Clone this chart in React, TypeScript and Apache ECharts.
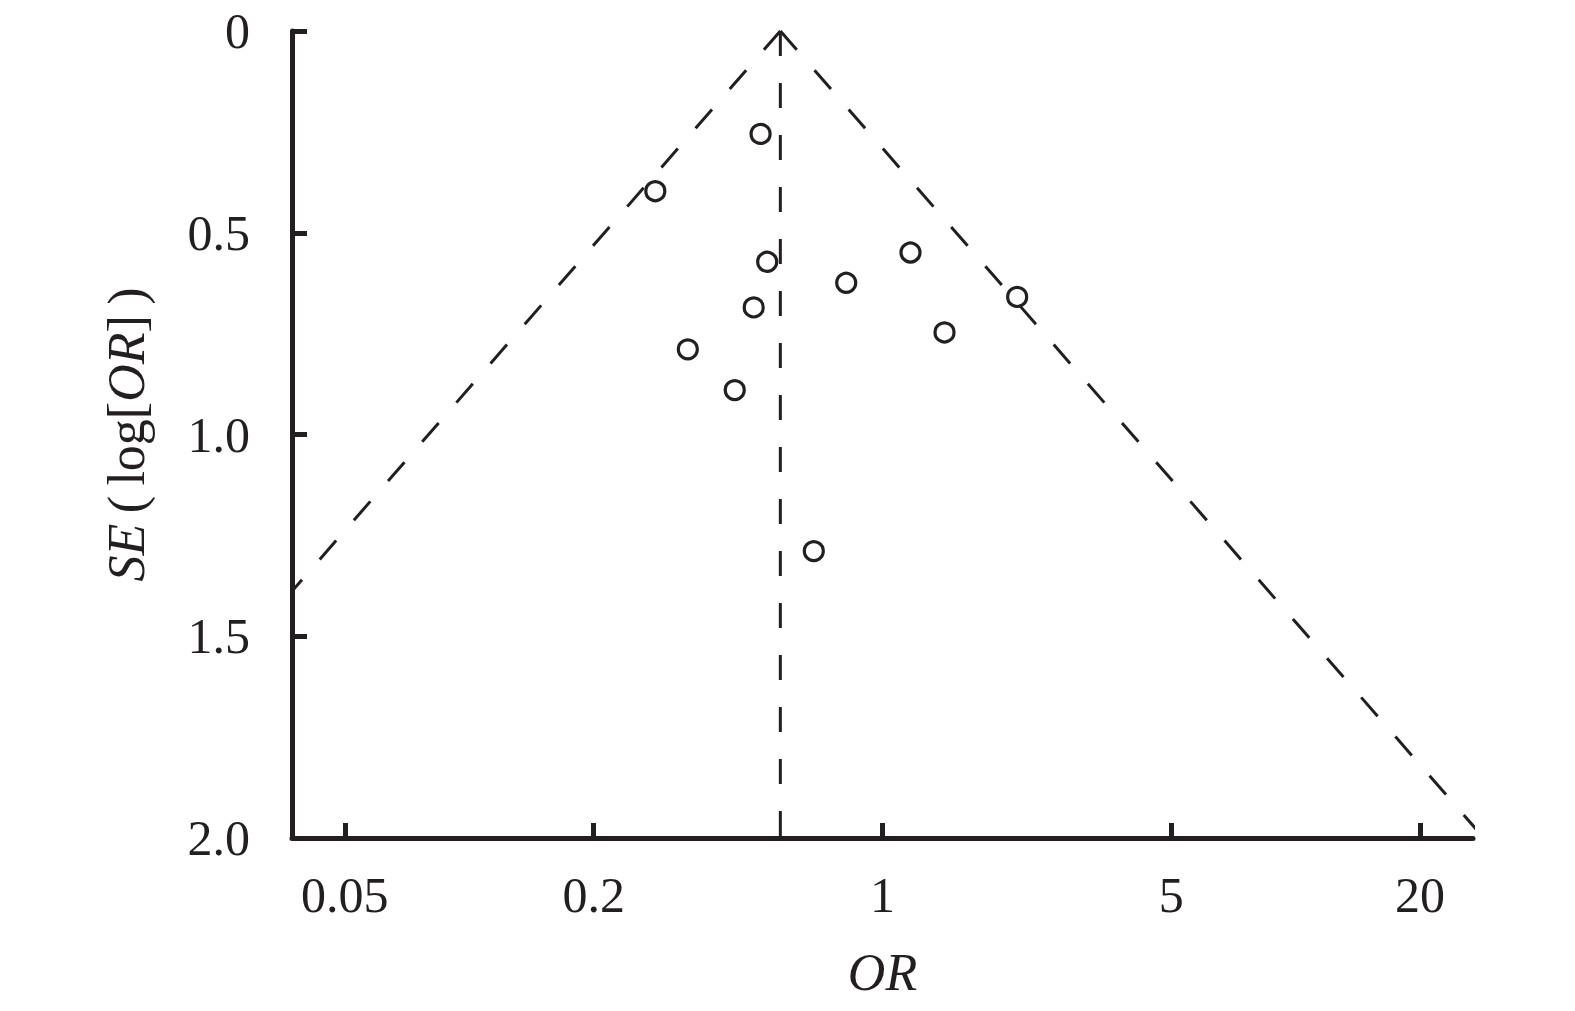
import React, { useEffect, useRef } from "react";
import * as echarts from "echarts";

// ---- data ----
const orTicks = [0.05, 0.2, 1, 5, 20];
const orTickLabels = ["0.05", "0.2", "1", "5", "20"];
const seTicksInterval = 0.5;
const seMin = 0;
const seMax = 2.0;
const orAxisMin = 0.03724;
const orAxisMax = 26.86;

const studyOR = [0.507, 0.282, 1.169, 0.526, 0.817, 2.118, 0.488, 1.413, 0.338, 0.439, 0.682];
const studySE = [0.255, 0.397, 0.549, 0.572, 0.624, 0.659, 0.685, 0.747, 0.789, 0.89, 1.289];
const pooledOR = 0.566;
const funnelZ = 1.96;

const INK = "#231f20";
const FONT = "'Liberation Serif', 'Times New Roman', serif";

export default function App() {
  const ref = useRef<HTMLDivElement | null>(null);

  useEffect(() => {
    if (!ref.current) return;
    const chart = echarts.init(ref.current, undefined, { renderer: "svg" });

    const lg = (v: number) => Math.log10(v);
    const c = lg(pooledOR);
    const half = (funnelZ * seMax) / Math.LN10;

    const points = studyOR.map((o, i) => [lg(o), studySE[i]]);
    const dash = [25, 27];
    const lineStyle = { color: INK, width: 3, type: dash as any, cap: "butt" as const, opacity: 1 };

    chart.setOption({
      animation: false,
      backgroundColor: "#ffffff",
      grid: {
        left: 292,
        top: 31,
        width: 1181,
        height: 807,
        containLabel: false,
        outerBoundsMode: "none",
      },
      xAxis: {
        type: "value",
        min: lg(orAxisMin),
        max: lg(orAxisMax),
        position: "bottom",
        name: "OR",
        nameLocation: "middle",
        nameGap: 108,
        nameTextStyle: {
          fontFamily: FONT,
          fontSize: 52,
          fontStyle: "italic",
          color: INK,
        },
        axisLine: { show: true, onZero: false, lineStyle: { color: INK, width: 5 } },
        axisTick: {
          show: true,
          inside: true,
          length: 15,
          lineStyle: { color: INK, width: 5 },
          customValues: orTicks.map(lg),
        },
        axisLabel: {
          show: true,
          margin: 32,
          fontFamily: FONT,
          fontSize: 50,
          color: INK,
          customValues: orTicks.map(lg),
          formatter: (v: number) => {
            let best = 0;
            let bd = Infinity;
            orTicks.forEach((t, i) => {
              const d = Math.abs(lg(t) - v);
              if (d < bd) {
                bd = d;
                best = i;
              }
            });
            return orTickLabels[best];
          },
        },
        splitLine: { show: false },
      },
      yAxis: {
        type: "value",
        inverse: true,
        min: seMin,
        max: seMax,
        interval: seTicksInterval,
        name: "{i|SE}{n|\u2009(\u2009log[}{i|OR}{n|]\u2009)}",
        nameLocation: "middle",
        nameGap: 140,
        nameTextStyle: {
          rich: {
            i: { fontFamily: FONT, fontSize: 52, fontStyle: "italic", color: INK },
            n: { fontFamily: FONT, fontSize: 52, color: INK },
          },
        },
        axisLine: { show: true, onZero: false, lineStyle: { color: INK, width: 5 } },
        axisTick: { show: true, inside: true, length: 15, lineStyle: { color: INK, width: 5 } },
        axisLabel: {
          margin: 42,
          fontFamily: FONT,
          fontSize: 50,
          color: INK,
          formatter: (v: number) => (v === 0 ? "0" : v.toFixed(1)),
        },
        splitLine: { show: false },
      },
      series: [
        {
          type: "line",
          data: [
            [c, 0],
            [c - half, seMax],
          ],
          symbol: "none",
          lineStyle,
          clip: true,
          silent: true,
        },
        {
          type: "line",
          data: [
            [c, 0],
            [c + half, seMax],
          ],
          symbol: "none",
          lineStyle,
          clip: true,
          silent: true,
        },
        {
          type: "line",
          data: [
            [c, 0],
            [c, seMax],
          ],
          symbol: "none",
          lineStyle,
          clip: true,
          silent: true,
        },
        {
          type: "scatter",
          data: points,
          symbol: "circle",
          symbolSize: 19,
          itemStyle: { color: "rgba(0,0,0,0)", borderColor: INK, borderWidth: 3.2, opacity: 1 },
          clip: false,
        },
      ],
    });

    return () => chart.dispose();
  }, []);

  return (
    <div
      ref={ref}
      style={{ position: "absolute", left: 0, top: 0, width: 1575, height: 1011, background: "#fff" }}
    />
  );
}
